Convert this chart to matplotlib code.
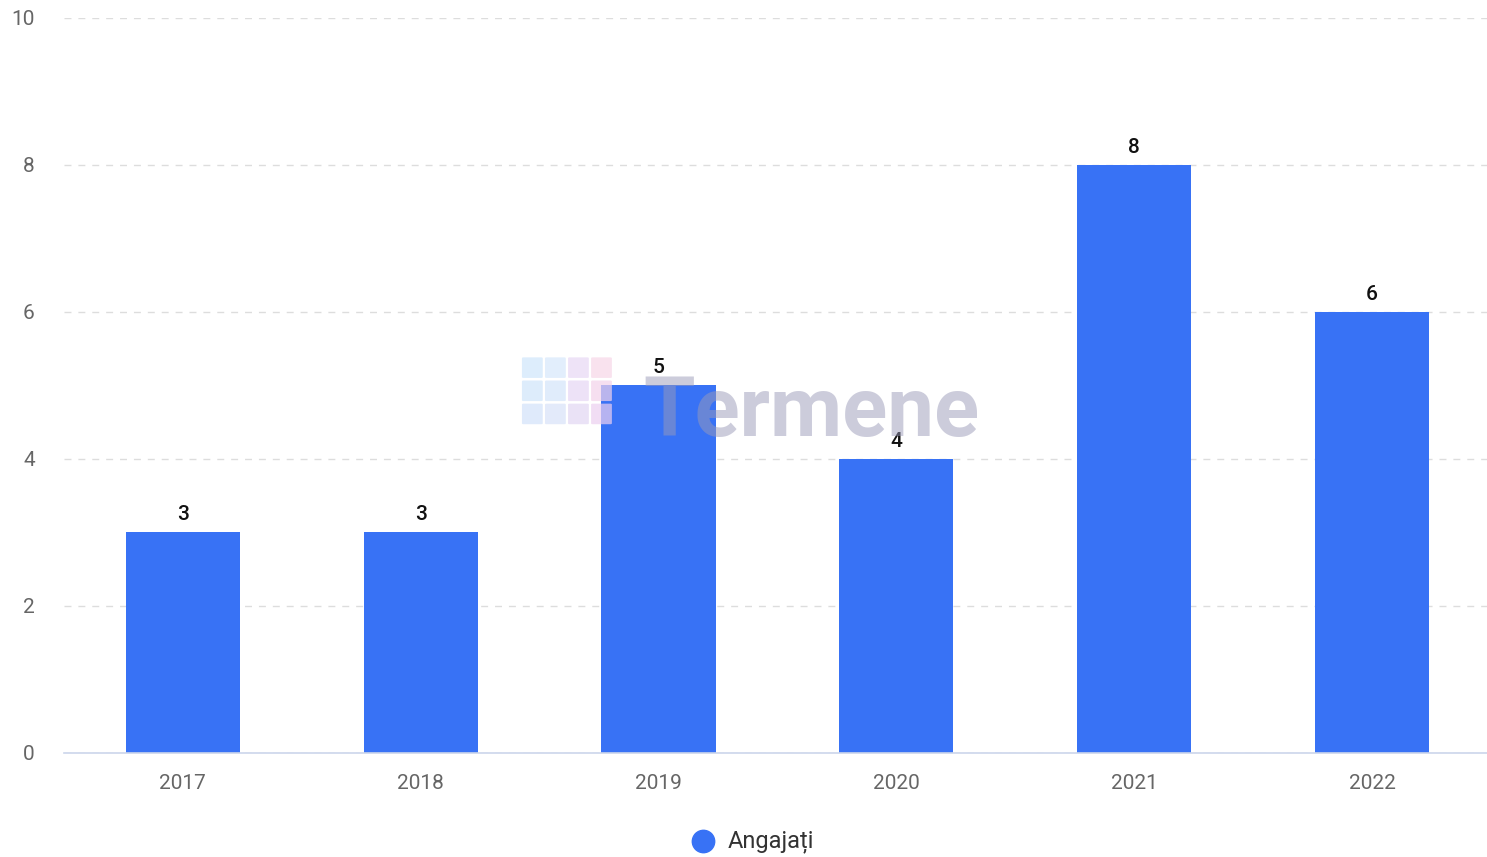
import matplotlib.pyplot as plt
from matplotlib.patches import FancyBboxPatch

# ======================
# Datos
# ======================
ani = ["2017", "2018", "2019", "2020", "2021", "2022"]
angajati = [3, 3, 5, 4, 8, 6]
y_ticks = [0, 2, 4, 6, 8, 10]

culoare_bara = "#3872f5"

plt.rcParams['font.family'] = ['Roboto', 'DejaVu Sans']

fig = plt.figure(figsize=(14.87, 8.57), dpi=100)
ax = fig.add_axes([0.043, 0.1214, 0.9597, 0.8576])

x = list(range(len(ani)))
ax.bar(x, angajati, width=0.48, color=culoare_bara, zorder=2)

for xi, v in zip(x, angajati):
    ax.annotate(str(v), (xi, v), xytext=(0, 6), textcoords="offset points",
                ha="center", va="bottom", fontsize=15, color="#111111",
                fontweight="medium", zorder=5)

ax.set_xlim(-0.5, len(ani) - 0.5)
ax.set_ylim(0, 10)
ax.set_yticks(y_ticks)
ax.set_xticks(x)
ax.set_xticklabels(ani)
ax.tick_params(axis="both", length=0, labelsize=15, colors="#666666")
ax.tick_params(axis="x", pad=15.5)
ax.tick_params(axis="y", pad=21)

ax.yaxis.grid(True, linestyle=(0, (5, 5)), color="#dddddd", linewidth=1, zorder=0)
ax.set_axisbelow(True)
for s in ["top", "right", "left"]:
    ax.spines[s].set_visible(False)
ax.spines["bottom"].set_color("#ccd6eb")
ax.spines["bottom"].set_linewidth(1.2)

# watermark "Termene" + logo
fig.text(0.433, 0.518, "Termene", fontsize=60, fontweight="bold", color="#9a9ab8",
         alpha=0.5, ha="left", va="center", zorder=10)
culori_logo = ["#cfe6fb", "#d6e8fb", "#e8d8f5", "#f7d6e8",
               "#cfe4fa", "#d4e4fa", "#e6d6f5", "#f3d2ea",
               "#d2e2fa", "#d8e2f8", "#e2d6f3", "#eccff0"]
k = 0
for r in range(3):
    for c in range(4):
        fig.patches.append(FancyBboxPatch((0.352 + c * 0.0155, 0.56 - r * 0.027), 0.012, 0.022,
                                          boxstyle="round,pad=0.001", transform=fig.transFigure,
                                          facecolor=culori_logo[k], edgecolor="none", alpha=0.7,
                                          zorder=10))
        k += 1

# legenda
ax.scatter([], [], s=260, color=culoare_bara, label="Angajați")
leg = ax.legend(loc="upper center", bbox_to_anchor=(0.4785, -0.088), frameon=False,
                fontsize=17, handletextpad=0.05, borderpad=0)
for t in leg.get_texts():
    t.set_color("#333333")

fig.savefig("out.png", dpi=100)
